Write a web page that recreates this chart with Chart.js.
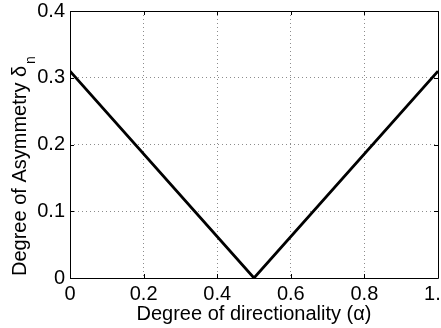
<!DOCTYPE html>
<html lang="en">
<head>
    <meta charset="UTF-8">
    <title>Degree of Asymmetry</title>
    <script src="https://cdn.jsdelivr.net/npm/chart.js"></script>
    <style>
        /* plain white page, canvas sits in the top-left corner */
        html, body {
            margin: 0;
            padding: 0;
            background-color: #ffffff;
        }
    </style>
</head>
<body>
    <canvas id="asym-chart" width="441" height="328"></canvas>

    <script>
        // data
        const alphaValues = [0, 0.5, 1];
        const asymmetryValues = [0.31, 0, 0.31];

        // tick labels
        const xTicks = [0, 0.2, 0.4, 0.6, 0.8, 1];
        const yTicks = [0, 0.1, 0.2, 0.3, 0.4];

        // axis titles
        const xTitle = 'Degree of directionality (α)';
        const yTitle = 'Degree of Asymmetry δ';
        const yTitleSub = 'n';

        const FONT = 'Liberation Sans, Arial, Helvetica, sans-serif';
        const FONT_SIZE = 20;

        // MATLAB-ish frame: black box, inward ticks and the y title with its subscript
        const framePlugin = {
            id: 'frame',
            afterDraw(chart) {
                const ctx = chart.ctx;
                const a = chart.chartArea;
                const xs = chart.scales.x;
                const ys = chart.scales.y;
                const tick = 4;

                ctx.save();
                ctx.strokeStyle = '#000';
                ctx.lineWidth = 1;
                ctx.beginPath();
                ctx.rect(Math.round(a.left) + 0.5, Math.round(a.top) + 0.5,
                         Math.round(a.right - a.left), Math.round(a.bottom - a.top));
                ctx.stroke();

                ctx.beginPath();
                xTicks.forEach(v => {
                    const px = Math.round(xs.getPixelForValue(v)) + 0.5;
                    ctx.moveTo(px, a.bottom); ctx.lineTo(px, a.bottom - tick);
                    ctx.moveTo(px, a.top); ctx.lineTo(px, a.top + tick);
                });
                yTicks.forEach(v => {
                    const py = Math.round(ys.getPixelForValue(v)) + 0.5;
                    ctx.moveTo(a.left, py); ctx.lineTo(a.left + tick, py);
                    ctx.moveTo(a.right, py); ctx.lineTo(a.right - tick, py);
                });
                ctx.stroke();

                // rotated y title, subscript drawn smaller and lower
                ctx.translate(26, 276);
                ctx.rotate(-Math.PI / 2);
                ctx.fillStyle = '#000';
                ctx.textAlign = 'left';
                ctx.textBaseline = 'alphabetic';
                ctx.font = FONT_SIZE + 'px ' + FONT;
                ctx.fillText(yTitle, 0, 0);
                const w = ctx.measureText(yTitle).width;
                ctx.font = '14px ' + FONT;
                ctx.fillText(yTitleSub, w + 2, 9);
                ctx.restore();
            }
        };

        const ctx = document.getElementById('asym-chart').getContext('2d');
        const asymChart = new Chart(ctx, {
            type: 'line',
            data: {
                datasets: [{
                    data: alphaValues.map((a, i) => ({ x: a, y: asymmetryValues[i] })),
                    borderColor: '#000',
                    borderWidth: 2.8,
                    pointRadius: 0,
                    fill: false,
                    tension: 0
                }]
            },
            options: {
                responsive: false,
                animation: false,
                layout: { padding: { top: 11, right: 3, left: 0, bottom: 0 } },
                plugins: {
                    legend: { display: false },
                    tooltip: { enabled: false }
                },
                scales: {
                    x: {
                        type: 'linear',
                        min: 0,
                        max: 1,
                        afterBuildTicks: s => { s.ticks = xTicks.map(v => ({ value: v })); },
                        afterFit: s => { s.height = 50; s.paddingRight = 0; s.paddingLeft = 0; },
                        grid: { color: '#8c8c8c', lineWidth: 1, drawTicks: false },
                        border: { display: false, dash: [1, 3] },
                        ticks: {
                            color: '#000',
                            font: { family: FONT, size: FONT_SIZE },
                            padding: 4,
                            maxRotation: 0,
                            autoSkip: false
                        },
                        title: {
                            display: true,
                            text: xTitle,
                            color: '#000',
                            font: { family: FONT, size: FONT_SIZE },
                            padding: { top: 0, bottom: 2 }
                        }
                    },
                    y: {
                        type: 'linear',
                        min: 0,
                        max: 0.4,
                        afterBuildTicks: s => { s.ticks = yTicks.map(v => ({ value: v })); },
                        afterFit: s => { s.width = 70; s.paddingTop = 0; s.paddingBottom = 0; },
                        grid: { color: '#8c8c8c', lineWidth: 1, drawTicks: false },
                        border: { display: false, dash: [1, 3] },
                        ticks: {
                            color: '#000',
                            font: { family: FONT, size: FONT_SIZE },
                            padding: 5,
                            autoSkip: false
                        }
                    }
                }
            },
            plugins: [framePlugin]
        });
    </script>
</body>
</html>
